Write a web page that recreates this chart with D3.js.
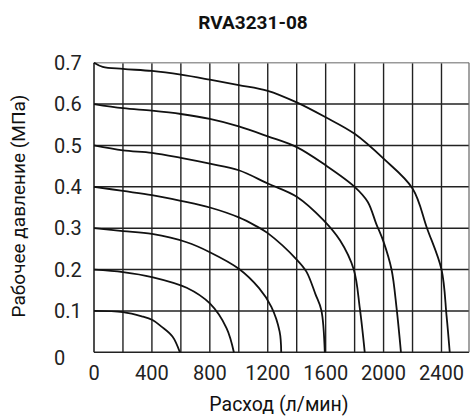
<!DOCTYPE html>
<html>
<head>
<meta charset="utf-8">
<script src="https://cdn.jsdelivr.net/npm/d3@7"></script>
<style>
body { margin: 0; background: #fff; }
svg { display: block; font-family: Roboto, "Noto Sans", sans-serif; }
</style>
</head>
<body>
<svg width="470" height="416"></svg>
<script>
var title = "RVA3231-08";
var xTitle = "Расход (л/мин)";
var yTitle = "Рабочее давление (МПа)";

var xTicks = [0, 400, 800, 1200, 1600, 2000, 2400];
var yTicks = [0, 0.1, 0.2, 0.3, 0.4, 0.5, 0.6, 0.7];

// [flow, pressure], one list per set pressure
var curve01 = [[0, 0.1], [200, 0.097], [330, 0.087], [404, 0.078], [466, 0.062], [542, 0.038], [593, 0]];
var curve02 = [[0, 0.2], [200, 0.194], [400, 0.182], [640, 0.156], [800, 0.118], [916, 0.058], [966, 0]];
var curve03 = [[0, 0.3], [200, 0.293], [400, 0.286], [640, 0.266], [800, 0.242], [1000, 0.202], [1140, 0.155], [1225, 0.11], [1282, 0.05], [1293, 0]];
var curve04 = [[0, 0.4], [200, 0.39], [400, 0.38], [600, 0.366], [800, 0.35], [1000, 0.326], [1120, 0.305], [1200, 0.288], [1403, 0.223], [1467, 0.195], [1530, 0.14], [1570, 0.102], [1594, 0]];
var curve05 = [[0, 0.5], [200, 0.488], [400, 0.482], [600, 0.47], [800, 0.456], [1000, 0.44], [1200, 0.408], [1400, 0.376], [1583, 0.32], [1700, 0.27], [1794, 0.2], [1836, 0.106], [1870, 0]];
var curve06 = [[0, 0.6], [200, 0.59], [400, 0.584], [600, 0.576], [800, 0.564], [1000, 0.546], [1200, 0.522], [1400, 0.496], [1600, 0.452], [1800, 0.4], [1890, 0.364], [1950, 0.31], [2000, 0.267], [2055, 0.2], [2090, 0.106], [2120, 0]];
var curve07 = [[0, 0.7], [60, 0.69], [200, 0.685], [400, 0.68], [600, 0.671], [800, 0.659], [1000, 0.646], [1200, 0.632], [1400, 0.604], [1600, 0.568], [1800, 0.528], [2000, 0.468], [2200, 0.396], [2300, 0.3], [2400, 0.2], [2435, 0.088], [2457, 0]];
var curves = [curve01, curve02, curve03, curve04, curve05, curve06, curve07];

var plotLeft = 94, plotRight = 469, plotTop = 62.7, plotBottom = 352.3;

var x = d3.scaleLinear().domain([0, 2590]).range([plotLeft, plotRight]);
var y = d3.scaleLinear().domain([0, 0.7]).range([plotBottom, plotTop]);

var svg = d3.select("svg");

// grid
svg.append("g")
    .selectAll("line")
    .data(d3.range(200, 2600, 200))
    .enter()
    .append("line")
    .attr("x1", (d) => x(d))
    .attr("x2", (d) => x(d))
    .attr("y1", plotTop)
    .attr("y2", plotBottom)
    .attr("stroke", "#222")
    .attr("stroke-width", 1.4);

svg.append("g")
    .selectAll("line")
    .data(yTicks.slice(1, -1))
    .enter()
    .append("line")
    .attr("x1", plotLeft)
    .attr("x2", plotRight)
    .attr("y1", (d) => y(d))
    .attr("y2", (d) => y(d))
    .attr("stroke", "#222")
    .attr("stroke-width", 1.4);

// frame
svg.append("line")
    .attr("x1", plotLeft).attr("x2", plotRight)
    .attr("y1", plotTop).attr("y2", plotTop)
    .attr("stroke", "#999").attr("stroke-width", 1.5);
svg.append("line")
    .attr("x1", plotLeft).attr("x2", plotRight)
    .attr("y1", plotBottom).attr("y2", plotBottom)
    .attr("stroke", "#222").attr("stroke-width", 1.6);
svg.append("line")
    .attr("x1", plotLeft).attr("x2", plotLeft)
    .attr("y1", plotTop).attr("y2", plotBottom)
    .attr("stroke", "#222").attr("stroke-width", 1.6);
svg.append("line")
    .attr("x1", plotRight).attr("x2", plotRight)
    .attr("y1", plotTop).attr("y2", plotBottom)
    .attr("stroke", "#666").attr("stroke-width", 1.2);

// curves
var lineFunction = d3.line()
    .x((p) => x(p[0]))
    .y((p) => y(p[1]))
    .curve(d3.curveCatmullRom.alpha(0.5));

svg.append("g")
    .selectAll("path")
    .data(curves)
    .enter()
    .append("path")
    .attr("d", (d) => lineFunction(d))
    .attr("fill", "none")
    .attr("stroke", "#111")
    .attr("stroke-width", 1.8);

// tick labels
svg.append("g")
    .selectAll("text")
    .data(xTicks)
    .enter()
    .append("text")
    .attr("x", (d) => x(d))
    .attr("y", 380)
    .attr("text-anchor", "middle")
    .attr("font-size", 20)
    .attr("fill", "#222")
    .text((d) => d);

// y labels sit left-aligned in the reference, the "0" a little low
svg.append("g")
    .selectAll("text")
    .data(yTicks)
    .enter()
    .append("text")
    .attr("x", 54)
    .attr("y", (d) => y(d) + (d === 0 ? 5 : 0))
    .attr("dy", "0.36em")
    .attr("text-anchor", "start")
    .attr("font-size", 20)
    .attr("fill", "#222")
    .text((d) => d === 0 ? "0" : d.toFixed(1));

// titles
svg.append("text")
    .attr("x", 253)
    .attr("y", 28.5)
    .attr("text-anchor", "middle")
    .attr("font-size", 19)
    .attr("font-weight", "bold")
    .attr("fill", "#111")
    .text(title);

svg.append("text")
    .attr("x", 279)
    .attr("y", 411)
    .attr("text-anchor", "middle")
    .attr("font-size", 19.5)
    .attr("fill", "#111")
    .text(xTitle);

svg.append("text")
    .attr("transform", "translate(25,206) rotate(-90)")
    .attr("text-anchor", "middle")
    .attr("font-size", 19)
    .attr("fill", "#111")
    .text(yTitle);
</script>
</body>
</html>
